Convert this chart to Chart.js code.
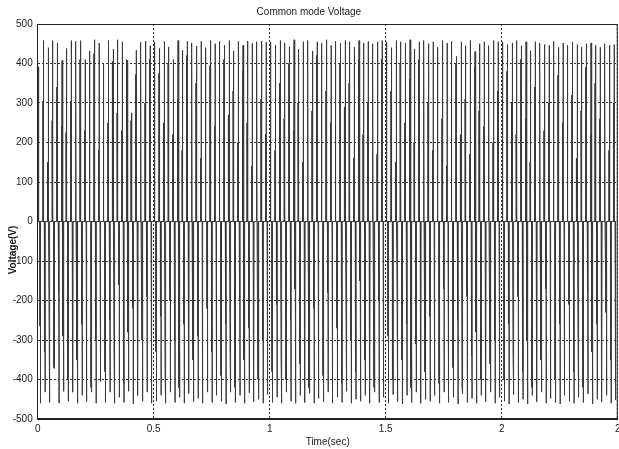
<!DOCTYPE html>
<html lang="en">
<head>
  <meta charset="UTF-8"/>
  <title>Common mode Voltage</title>
  <script src="https://cdn.jsdelivr.net/npm/chart.js"></script>
  <style>
    html, body { margin: 0; padding: 0; background: #fff; }
    .wrap { width: 619px; height: 449px; }
  </style>
</head>
<body>
  <div class="wrap"><canvas id="chart" width="619" height="449"></canvas></div>

  <script>
    // one switching cycle every 20 ms, four spikes in each cycle
    const period = 0.02;
    const spikeAt = [0.002, 0.005, 0.009, 0.012];

    const hiUp = [
      392,458,440,458,452,408,438,458,456,458,410,432,460,452,400,458,436,460,455,408,275,434,454,457,445,
      455,438,456,442,410,458,434,456,452,444,456,440,458,450,456,446,458,432,456,446,457,451,455,457,454,
      455,446,458,452,442,460,436,455,458,432,455,451,460,446,456,452,458,455,441,458,452,456,450,455,458,
      455,440,458,455,452,460,437,455,458,450,455,441,458,452,456,418,455,445,458,430,450,455,445,458,455,
      455,448,452,458,445,455,432,455,452,448,446,456,441,452,446,454,448,442,450,452,446,441,450,446,448
    ];
    const midUp = [
      275,305,150,255,340,240,225,305,370,410,230,370,425,180,300,250,405,275,230,410,255,372,120,300,410,
      270,375,250,400,220,310,180,420,260,350,160,300,395,240,180,410,270,330,200,380,250,140,400,310,220,
      410,180,350,260,400,230,300,150,380,280,420,200,330,250,180,400,290,350,160,410,220,300,380,170,410,
      280,330,150,400,250,360,200,410,230,300,180,380,260,140,350,400,220,310,170,390,280,240,410,200,330,
      170,380,300,220,410,260,150,340,400,230,300,190,370,250,410,320,160,280,390,220,350,260,400,180,300
    ];
    const hiDown = [
      -460,-432,-458,-372,-460,-430,-455,-432,-460,-440,-456,-432,-460,-405,-458,-432,-460,-445,-458,-430,-462,-440,-455,-432,-460,
      -455,-440,-460,-432,-458,-445,-460,-435,-456,-448,-460,-432,-458,-440,-455,-462,-432,-458,-440,-460,-434,-456,-450,-460,-438,
      -458,-445,-460,-432,-455,-460,-440,-458,-435,-460,-448,-456,-432,-460,-445,-458,-430,-460,-450,-455,-440,-460,-432,-458,-445,
      -460,-438,-456,-462,-440,-458,-432,-460,-450,-455,-440,-460,-432,-458,-445,-462,-436,-458,-448,-460,-440,-456,-432,-460,-445,
      -455,-462,-438,-458,-450,-462,-440,-456,-432,-460,-448,-458,-462,-440,-455,-460,-445,-458,-436,-462,-450,-456,-440,-460,-452
    ];
    const midDown = [
      -265,-330,-230,-370,-180,-290,-400,-210,-350,-260,-120,-420,-300,-190,-380,-250,-330,-160,-410,-280,-220,-360,-300,-190,-400,
      -330,-240,-380,-200,-300,-420,-260,-150,-350,-290,-410,-220,-330,-180,-390,-260,-310,-420,-200,-350,-270,-160,-400,-300,-230,
      -380,-210,-330,-400,-250,-170,-360,-290,-420,-220,-310,-390,-180,-340,-270,-410,-230,-300,-380,-150,-350,-260,-420,-200,-320,
      -290,-400,-180,-350,-260,-420,-310,-200,-380,-240,-330,-410,-170,-300,-370,-250,-420,-190,-340,-280,-400,-220,-360,-300,-150,
      -400,-260,-330,-190,-380,-300,-420,-230,-350,-170,-310,-400,-260,-340,-210,-380,-290,-420,-180,-330,-260,-390,-230,-350,-300
    ];

    const xTickLabels = ['0', '0.5', '1', '1.5', '2', '2'];

    const FONT = "'Liberation Sans Narrow', 'Liberation Sans', Arial, sans-serif";
    const INK = '#1a1a1a';

    // each spike leaves zero, hits its peak and comes back
    const points = [];
    hiUp.forEach((_, i) => {
      const t0 = i * period;
      const peaks = [midUp[i], hiUp[i], midDown[i], hiDown[i]];
      peaks.forEach((p, k) => {
        const t = t0 + spikeAt[k];
        points.push({ x: t - 0.0004, y: 0 }, { x: t, y: p }, { x: t + 0.0004, y: 0 });
      });
    });

    const frame = {
      id: 'frame',
      afterDraw(chart) {
        const { ctx, chartArea: a } = chart;
        ctx.save();
        ctx.strokeStyle = '#222';
        ctx.lineWidth = 1;
        ctx.beginPath();
        ctx.moveTo(a.left, a.top + 0.5);
        ctx.lineTo(a.right, a.top + 0.5);
        ctx.moveTo(a.right - 0.5, a.top);
        ctx.lineTo(a.right - 0.5, a.bottom);
        ctx.stroke();

        // y label sits a bit below the middle, as in the original
        ctx.translate(13, 250);
        ctx.rotate(-Math.PI / 2);
        ctx.font = 'bold 10px ' + FONT;
        ctx.fillStyle = INK;
        ctx.textAlign = 'center';
        ctx.textBaseline = 'middle';
        ctx.fillText('Voltage(V)', 0, 0);
        ctx.restore();
      }
    };

    new Chart(document.getElementById('chart'), {
      type: 'line',
      data: {
        datasets: [{
          data: points,
          borderColor: '#3a3a3a',
          borderWidth: 1,
          pointRadius: 0,
          tension: 0,
          fill: false
        }]
      },
      options: {
        responsive: false,
        animation: false,
        layout: { padding: { left: 0, right: 1.3, top: 0, bottom: 0 } },
        plugins: {
          legend: { display: false },
          tooltip: { enabled: false },
          title: {
            display: true,
            text: 'Common mode Voltage',
            color: INK,
            font: { family: FONT, size: 10, weight: 'normal' },
            padding: { top: 6, bottom: 6 }
          }
        },
        scales: {
          x: {
            type: 'linear',
            min: 0,
            max: 2.5,
            z: 1,
            ticks: {
              stepSize: 0.5,
              color: INK,
              font: { family: FONT, size: 10 },
              padding: 4,
              maxRotation: 0,
              callback: (v, i) => xTickLabels[i]
            },
            grid: { color: '#333', drawTicks: false, lineWidth: 1 },
            border: { display: true, color: '#222', width: 2, dash: [2, 2] },
            title: {
              display: true,
              text: 'Time(sec)',
              color: INK,
              font: { family: FONT, size: 10 },
              padding: { top: 0, bottom: 1 }
            },
            // the last label runs off the edge in the original
            afterFit: s => { s.height = 30; s.paddingLeft = 0; s.paddingRight = 0; }
          },
          y: {
            min: -500,
            max: 500,
            z: 1,
            ticks: {
              stepSize: 100,
              color: INK,
              font: { family: FONT, size: 10 },
              padding: 5
            },
            grid: { color: '#333', drawTicks: false, lineWidth: 1 },
            border: { display: true, color: '#222', width: 1, dash: [2, 2] },
            afterFit: s => { s.width = 37.7; }
          }
        }
      },
      plugins: [frame]
    });
  </script>
</body>
</html>
